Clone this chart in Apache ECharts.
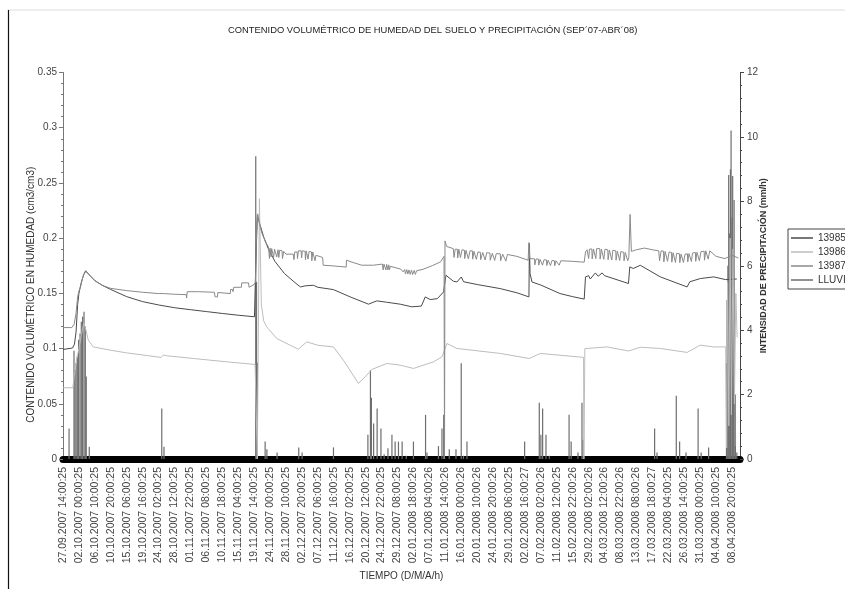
<!DOCTYPE html>
<html>
<head>
<meta charset="utf-8">
<script src="https://cdn.jsdelivr.net/npm/echarts@6/dist/echarts.min.js"></script>
<style>
  html, body { margin: 0; padding: 0; background: #fff; }
  #draw { width: 845px; height: 589px; }
</style>
</head>
<body>
<div id="draw"></div>
<script>
  // etiquetas del eje X (una cada 106 registros horarios)
  var tickLabels = [
    '27.09.2007 14:00:25', '02.10.2007 00:00:25', '06.10.2007 10:00:25', '10.10.2007 20:00:25',
    '15.10.2007 06:00:25', '19.10.2007 16:00:25', '24.10.2007 02:00:25', '28.10.2007 12:00:25',
    '01.11.2007 22:00:25', '06.11.2007 08:00:25', '10.11.2007 18:00:25', '15.11.2007 04:00:25',
    '19.11.2007 14:00:25', '24.11.2007 00:00:25', '28.11.2007 10:00:25', '02.12.2007 20:00:25',
    '07.12.2007 06:00:25', '11.12.2007 16:00:25', '16.12.2007 02:00:25', '20.12.2007 12:00:25',
    '24.12.2007 22:00:25', '29.12.2007 08:00:25', '02.01.2008 18:00:26', '07.01.2008 04:00:26',
    '11.01.2008 14:00:26', '16.01.2008 00:00:26', '20.01.2008 10:00:26', '24.01.2008 20:00:26',
    '29.01.2008 06:00:25', '02.02.2008 16:00:27', '07.02.2008 02:00:26', '11.02.2008 12:00:25',
    '15.02.2008 22:00:26', '29.02.2008 02:00:26', '04.03.2008 12:00:26', '08.03.2008 22:00:26',
    '13.03.2008 08:00:26', '17.03.2008 18:00:27', '22.03.2008 04:00:25', '26.03.2008 14:00:25',
    '31.03.2008 00:00:25', '04.04.2008 10:00:25', '08.04.2008 20:00:25'
  ]

  var seriesNames = ['13985', '13986', '13987', 'LLUVIA']

  // [posicion en etiquetas, humedad cm3/cm3]
  var s13985 = [
    [0, 0.0992], [0.6, 0.1005], [0.72, 0.104], [0.82, 0.115], [0.92, 0.14], [1.0, 0.15], [1.15, 0.16],
    [1.3, 0.167], [1.42, 0.1705], [1.6, 0.1675], [2.0, 0.1615], [2.5, 0.157], [3.0, 0.1535], [4.0, 0.147],
    [5.0, 0.1425], [6.0, 0.1395], [7.0, 0.137], [8.0, 0.1352], [9.0, 0.1335], [10.0, 0.1318], [11.0, 0.1302],
    [12.02, 0.1288], [12.1, 0.175], [12.2, 0.2205], [12.35, 0.213], [12.6, 0.201], [12.9, 0.19], [13.3, 0.179],
    [13.9, 0.168], [14.5, 0.1605], [14.9, 0.1558], [15.2, 0.1568], [15.72, 0.1573], [16.0, 0.1555],
    [16.98, 0.1534], [18.03, 0.1468], [19.18, 0.1402], [19.7, 0.1432], [20.3, 0.142], [21.17, 0.1402],
    [21.9, 0.1378], [22.5, 0.1385], [22.74, 0.1468], [23.05, 0.1444], [23.5, 0.1452], [23.89, 0.1513],
    [24.04, 0.1664], [24.5, 0.161], [24.73, 0.1603], [25.0, 0.1648], [25.15, 0.1605], [26.0, 0.158],
    [27.45, 0.1543], [28.5, 0.1505], [29.25, 0.1468], [29.28, 0.195], [29.32, 0.168], [29.44, 0.1603],
    [30.0, 0.1575], [31.2, 0.1498], [32.0, 0.147], [32.72, 0.1448], [32.8, 0.1649], [33.0, 0.166],
    [33.1, 0.163], [33.42, 0.1685], [33.6, 0.1655], [33.84, 0.1685], [34.0, 0.166], [35.5, 0.1589],
    [35.58, 0.174], [35.8, 0.1725], [36.24, 0.1754], [37.5, 0.1649], [39.18, 0.1558], [39.35, 0.1605],
    [40.01, 0.1634], [40.85, 0.1649], [41.58, 0.1625], [42.3, 0.163]
  ]

  var s13986 = [
    [0, 0.0645], [0.62, 0.0645], [0.7, 0.075], [0.85, 0.09], [1.0, 0.1], [1.15, 0.112], [1.3, 0.123],
    [1.4, 0.119], [1.59, 0.1076], [1.9, 0.1015], [2.95, 0.0986], [4.0, 0.0961], [6.15, 0.092], [6.3, 0.0941],
    [6.5, 0.0935], [8.19, 0.091], [10.28, 0.088], [12.06, 0.0856], [12.2, 0], [12.33, 0.2357], [12.45, 0.14],
    [12.6, 0.125], [12.79, 0.1196], [13.42, 0.1091], [14.47, 0.1015], [14.78, 0.0995], [15.3, 0.1061],
    [16.0, 0.103], [16.98, 0.1015], [17.6, 0.0895], [18.55, 0.0684], [19.07, 0.076], [19.39, 0.0811],
    [20.33, 0.0865], [21.17, 0.085], [22.0, 0.082], [23.26, 0.088], [23.79, 0.0925], [23.95, 0.0986],
    [24.1, 0.1046], [24.73, 0.1001], [27.45, 0.0956], [29.27, 0.091], [29.96, 0.0956], [32.68, 0.092],
    [32.7, 0], [32.76, 0.1], [32.89, 0.1001], [34.15, 0.1015], [35.51, 0.0978], [36.24, 0.1012],
    [37.5, 0.1001], [39.18, 0.0965], [40.01, 0.1031], [40.85, 0.1015], [41.6, 0.1015],
    [41.66, 0.01], [41.72, 0.16], [41.8, 0.03], [41.88, 0.2], [41.96, 0.04], [42.06, 0.19], [42.15, 0.05],
    [42.24, 0.15], [42.32, 0.11]
  ]

  var s13987 = [
    [0, 0.119], [0.55, 0.119], [0.7, 0.122], [0.82, 0.132], [0.92, 0.147], [1.0, 0.152], [1.1, 0.156],
    [1.25, 0.165], [1.42, 0.17], [1.6, 0.1675], [2.0, 0.1615], [2.5, 0.157], [3.0, 0.1545], [4.0, 0.1525],
    [5.0, 0.151], [6.0, 0.1498], [6.12, 0.1482], [6.3, 0.1498], [7.0, 0.1492], [7.74, 0.1488], [7.76, 0.1458],
    [7.8, 0.1515], [8.5, 0.1515], [9.5, 0.151], [9.55, 0.1468], [9.7, 0.1468], [9.72, 0.1508], [10.5, 0.1498],
    [10.52, 0.1535], [10.65, 0.1535], [10.67, 0.1515], [10.72, 0.1555], [11.2, 0.1555], [11.22, 0.1595],
    [11.65, 0.1595], [11.68, 0.1555], [12.0, 0.158],
    [12.08, 0.16], [12.15, 0.205], [12.22, 0.222], [12.35, 0.212], [12.5, 0.204], [12.7, 0.197], [12.9, 0.192],
    [12.96, 0.1815], [13.0, 0.191], [13.06, 0.183], [13.1, 0.1905], [13.2, 0.1905], [13.22, 0.1825],
    [13.28, 0.19], [13.4, 0.1895], [13.42, 0.183], [13.5, 0.1895], [13.55, 0.1825], [13.6, 0.189],
    [13.75, 0.1885], [13.78, 0.1815], [13.85, 0.188], [13.9, 0.1875], [14.0, 0.1855], [14.45, 0.1855],
    [14.5, 0.1805], [14.55, 0.1875], [14.7, 0.1875], [14.72, 0.1815], [14.78, 0.1885], [14.95, 0.1885],
    [14.98, 0.182], [15.02, 0.1885], [15.2, 0.188], [15.22, 0.1805], [15.27, 0.1885], [15.35, 0.1885],
    [15.38, 0.181], [15.45, 0.188], [15.6, 0.1875], [15.62, 0.1795], [15.68, 0.1875], [15.8, 0.1865],
    [15.82, 0.1795], [15.88, 0.1845], [16.3, 0.1825], [16.33, 0.1755], [17.0, 0.1748], [17.78, 0.1738],
    [17.8, 0.18], [18.2, 0.178], [18.75, 0.1755], [19.5, 0.1755], [20.05, 0.1765],
    [20.1, 0.1712], [20.15, 0.1765], [20.25, 0.1765], [20.27, 0.1712], [20.32, 0.1762], [20.4, 0.1712],
    [20.45, 0.1758], [20.5, 0.1715], [20.55, 0.1745], [21.2, 0.172], [21.35, 0.1695],
    [21.45, 0.1715], [21.5, 0.1675], [21.58, 0.1715], [21.65, 0.1675], [21.72, 0.1712], [21.8, 0.1672],
    [21.88, 0.171], [21.95, 0.167], [22.05, 0.1708], [22.12, 0.1672], [22.2, 0.1705],
    [22.6, 0.1718], [23.2, 0.1752], [23.7, 0.1785], [23.92, 0.1835], [23.95, 0], [23.98, 0.1975],
    [24.08, 0.1925], [24.5, 0.1905],
    [24.55, 0.1825], [24.62, 0.19], [24.75, 0.19], [24.78, 0.182], [24.85, 0.19], [24.95, 0.1825],
    [25.05, 0.1895], [25.2, 0.189], [25.22, 0.1815], [25.3, 0.189], [25.45, 0.1812], [25.55, 0.1885],
    [25.7, 0.1885], [25.72, 0.181], [25.8, 0.188], [25.95, 0.1808], [26.05, 0.1875], [26.2, 0.1872],
    [26.22, 0.1805], [26.35, 0.187], [26.5, 0.1802], [26.6, 0.1868], [26.8, 0.1865], [26.82, 0.18],
    [26.95, 0.1862], [27.1, 0.1798], [27.2, 0.186], [27.45, 0.1858], [27.47, 0.1795], [27.6, 0.1855],
    [27.8, 0.1792], [27.9, 0.1852],
    [28.5, 0.1835], [29.2, 0.18], [29.25, 0.196], [29.3, 0.1815], [29.6, 0.1812],
    [29.62, 0.1758], [29.7, 0.1812], [29.85, 0.181], [29.87, 0.1755], [29.95, 0.1808], [30.1, 0.1755],
    [30.2, 0.1805], [30.35, 0.1802], [30.37, 0.1752], [30.45, 0.18], [30.6, 0.1752], [30.7, 0.1798],
    [30.85, 0.1795], [30.87, 0.175], [30.95, 0.1795], [31.15, 0.1755], [31.25, 0.1795],
    [32.0, 0.179], [32.72, 0.1782], [32.8, 0.1875],
    [32.9, 0.1895], [33.0, 0.1815], [33.05, 0.19], [33.2, 0.1902], [33.22, 0.1812], [33.3, 0.1902],
    [33.45, 0.1815], [33.5, 0.1905], [33.7, 0.1905], [33.72, 0.181], [33.8, 0.19], [33.95, 0.1808],
    [34.02, 0.19], [34.2, 0.1895], [34.22, 0.1805], [34.3, 0.1892], [34.45, 0.1802], [34.52, 0.189],
    [34.7, 0.1885], [34.72, 0.18], [34.8, 0.1882], [34.95, 0.1798], [35.02, 0.1878], [35.2, 0.1872],
    [35.22, 0.1795], [35.3, 0.187], [35.45, 0.1795], [35.52, 0.1825],
    [35.6, 0.2215], [35.68, 0.188], [36.0, 0.1895], [36.5, 0.191], [37.0, 0.1895], [37.4, 0.1885],
    [37.45, 0.1795], [37.55, 0.1885], [37.7, 0.1882], [37.72, 0.1785], [37.8, 0.188], [37.95, 0.179],
    [38.05, 0.1875], [38.2, 0.187], [38.22, 0.1782], [38.3, 0.1868], [38.45, 0.178], [38.52, 0.1862],
    [38.7, 0.1858], [38.72, 0.1778], [38.8, 0.1855], [38.95, 0.178], [39.05, 0.1855], [39.2, 0.1858],
    [39.22, 0.1785], [39.3, 0.186], [39.45, 0.1788], [39.52, 0.1865], [39.7, 0.187], [39.72, 0.179],
    [39.8, 0.1872], [39.95, 0.1795], [40.05, 0.1878], [40.25, 0.1882], [40.27, 0.18], [40.35, 0.1885],
    [40.5, 0.181], [40.6, 0.1885], [40.7, 0.1882],
    [41.0, 0.1835], [41.55, 0.1815], [42.0, 0.1845], [42.4, 0.182]
  ]

  // [posicion en etiquetas, lluvia mm/h]
  var lluvia = [
    [0.38, 0.95], [0.69, 3.36], [0.75, 2.76], [0.82, 2.97], [0.9, 3.18], [0.98, 3.7], [1.07, 3.9],
    [1.15, 4.26], [1.23, 4.42], [1.32, 4.57], [1.4, 4.11], [1.46, 2.56], [1.65, 0.38],
    [6.2, 1.57], [6.34, 0.38],
    [12.1, 9.4], [12.15, 5.5], [12.2, 3.0], [12.69, 0.54], [12.8, 0.3], [13.44, 0.2], [14.8, 0.36],
    [15.01, 0.2], [16.98, 0.36],
    [19.14, 0.75], [19.3, 2.76], [19.36, 1.9], [19.5, 1.1], [19.72, 1.57], [19.96, 0.95], [20.16, 0.15],
    [20.4, 0.33], [20.65, 0.75], [20.85, 0.54], [21.06, 0.54], [21.29, 0.54], [21.55, 0.1], [22.0, 0.54],
    [22.76, 1.37], [22.85, 0.2], [23.57, 0.4], [23.79, 0.95], [23.9, 1.37], [24.25, 0.3], [24.67, 0.3],
    [25.0, 2.97], [25.14, 0.1], [25.36, 0.54],
    [28.98, 0.54], [29.9, 1.75], [30.0, 0.75], [30.11, 1.57], [30.32, 0.75], [30.53, 0.1],
    [31.77, 1.37], [31.9, 0.54], [32.33, 0.2], [32.58, 1.75], [32.65, 0.6],
    [37.14, 0.95], [37.29, 0.2], [38.5, 1.96], [38.71, 0.54], [39.11, 0.2], [39.87, 1.57], [40.06, 0.2],
    [40.53, 0.36],
    [41.65, 2.97], [41.69, 4.94], [41.74, 6.0], [41.79, 8.82], [41.85, 7.0], [41.9, 9.0], [41.94, 10.2],
    [42.0, 7.5], [42.04, 8.79], [42.08, 6.5], [42.13, 8.04], [42.2, 2.0], [42.21, 0.4], [42.3, 0.2]
  ]

  var colores = ['#4a4a4a', '#bdbdbd', '#8a8a8a', '#6e6e6e']
  var fuente = 'Liberation Sans, Arial, sans-serif'

  var myChart = echarts.init(document.getElementById('draw'))

  function linea (name, data, color) {
    return {
      name: name,
      type: 'line',
      yAxisIndex: 0,
      data: data,
      symbol: 'none',
      color: color,
      lineStyle: { width: 1, color: color },
      animation: false
    }
  }

  myChart.setOption({
    animation: false,
    color: colores,
    title: {
      text: 'CONTENIDO VOLUMÉTRICO DE HUMEDAD DEL SUELO Y PRECIPITACIÓN (SEP´07-ABR´08)',
      left: 228,
      top: 26,
      padding: 0,
      textStyle: { fontFamily: fuente, fontSize: 9.4, fontWeight: 'normal', color: '#222' }
    },
    legend: {
      data: seriesNames,
      orient: 'vertical',
      left: 788,
      top: 229,
      icon: 'rect',
      itemWidth: 22,
      itemHeight: 1.5,
      itemGap: 4,
      padding: [4, 12, 4, 3],
      borderColor: '#444',
      borderWidth: 1,
      backgroundColor: '#fff',
      textStyle: { fontFamily: fuente, fontSize: 10, color: '#333' }
    },
    grid: { left: 63, right: 105, top: 72.5, bottom: 130 },
    xAxis: {
      type: 'value',
      min: 0,
      max: 42.5,
      interval: 1,
      name: 'TIEMPO (D/M/A/h)',
      nameLocation: 'middle',
      nameGap: 112,
      nameMoveOverlap: false,
      nameTextStyle: { fontFamily: fuente, fontSize: 10, color: '#333' },
      axisLine: { onZero: false, lineStyle: { color: '#000', width: 7 } },
      axisTick: { show: false },
      splitLine: { show: false },
      axisLabel: {
        rotate: 90,
        margin: 8,
        showMaxLabel: false,
        fontFamily: fuente,
        fontSize: 10.5,
        color: '#444',
        formatter: function (v) { return tickLabels[Math.round(v)] || '' }
      }
    },
    yAxis: [{
      type: 'value',
      min: 0,
      max: 0.35,
      interval: 0.05,
      name: 'CONTENIDO VOLUMÉTRICO EN HUMEDAD (cm3/cm3)',
      nameLocation: 'middle',
      nameGap: 27,
      nameMoveOverlap: false,
      nameTextStyle: { fontFamily: fuente, fontSize: 10, color: '#333', padding: [0, 58, 0, 0] },
      axisLine: { show: true, lineStyle: { color: '#777', width: 1 } },
      axisTick: { show: true, length: 4, lineStyle: { color: '#777' } },
      minorTick: { show: true, splitNumber: 5, length: 2, lineStyle: { color: '#777' } },
      splitLine: { show: false },
      axisLabel: { margin: 6, fontFamily: fuente, fontSize: 10, color: '#444' }
    }, {
      type: 'value',
      position: 'right',
      min: 0,
      max: 12,
      interval: 2,
      name: 'INTENSIDAD DE PRECIPITACIÓN (mm/h)',
      nameLocation: 'middle',
      nameGap: 19,
      nameMoveOverlap: false,
      nameTextStyle: { fontFamily: fuente, fontSize: 9, fontWeight: 'bold', color: '#333' },
      axisLine: { show: true, lineStyle: { color: '#444', width: 1 } },
      axisTick: { show: true, length: 4, lineStyle: { color: '#444' } },
      minorTick: { show: true, splitNumber: 5, length: 2, lineStyle: { color: '#444' } },
      splitLine: { show: false },
      axisLabel: { margin: 7, fontFamily: fuente, fontSize: 10, color: '#444' }
    }],
    graphic: [
      { type: 'line', shape: { x1: 8, y1: 10, x2: 845, y2: 10 }, style: { stroke: '#ddd', lineWidth: 1 } },
      { type: 'line', shape: { x1: 8.5, y1: 10, x2: 8.5, y2: 589 }, style: { stroke: '#111', lineWidth: 1.2 } }
    ],
    series: [
      linea('13985', s13985, colores[0]),
      linea('13986', s13986, colores[1]),
      linea('13987', s13987, colores[2]),
      {
        name: 'LLUVIA',
        type: 'bar',
        yAxisIndex: 1,
        data: lluvia,
        barWidth: 1.2,
        color: colores[3],
        itemStyle: { color: colores[3] },
        animation: false
      }
    ]
  })
</script>
</body>
</html>
